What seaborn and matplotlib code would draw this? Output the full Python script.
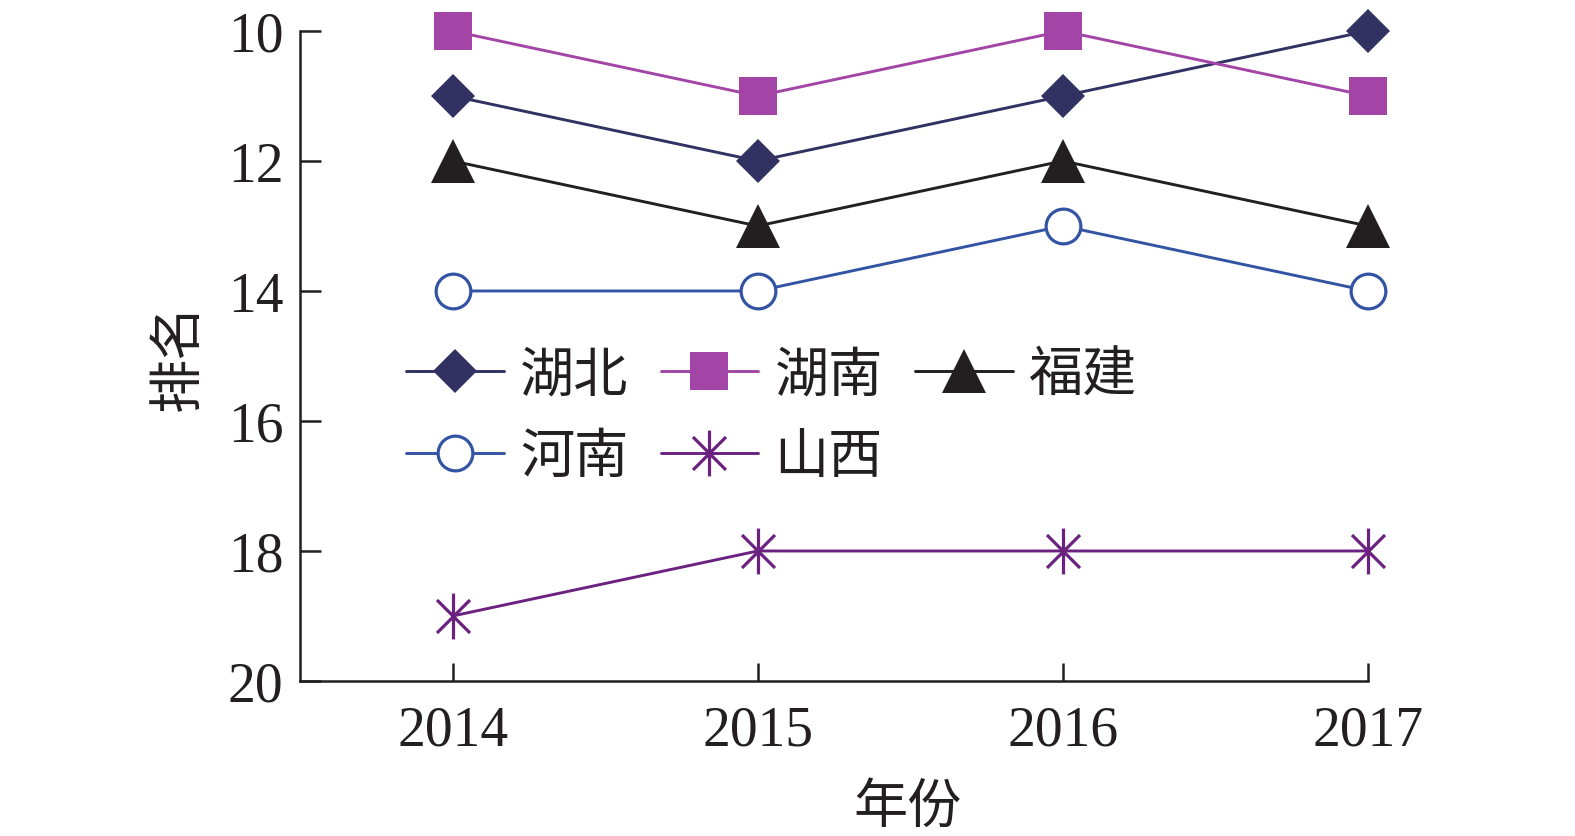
import pandas as pd
import matplotlib
matplotlib.use("Agg")
import matplotlib.pyplot as plt
from matplotlib.path import Path
import seaborn as sns

# 数据
years = [2014, 2015, 2016, 2017]
provinces = ["湖北", "湖南", "福建", "河南", "山西"]
hubei = [11, 12, 11, 10]
hunan = [10, 11, 10, 11]
fujian = [12, 13, 12, 13]
henan = [14, 14, 13, 14]
shanxi = [19, 18, 18, 18]

ranks = {"湖北": hubei, "湖南": hunan, "福建": fujian, "河南": henan, "山西": shanxi}
df = pd.DataFrame([
    {"年份": y, "排名": r, "省份": p}
    for p in provinces for y, r in zip(years, ranks[p])
])

# 米字形标记（竖线 + 交叉）
star = Path([(0, -1), (0, 1), (-0.72, -0.72), (0.72, 0.72), (-0.72, 0.72), (0.72, -0.72)],
            [Path.MOVETO, Path.LINETO] * 3)

colors = {"湖北": "#313162", "湖南": "#a245a6", "福建": "#231f20",
          "河南": "#3353a3", "山西": "#6b2180"}
markers = {"湖北": "D", "湖南": "s", "福建": "^", "河南": "o", "山西": star}
msizes = {"湖北": 22, "湖南": 28, "福建": 31, "河南": 25, "山西": 33}

sns.set_style("white")
plt.rcParams["font.family"] = ["Liberation Serif", "Noto Sans CJK SC"]
cjk = ["Noto Sans CJK SC", "DejaVu Sans"]

fig = plt.figure(figsize=(15.75, 8.37), dpi=100)
ax = fig.add_axes([0.1905, 0.1852, 0.8685 - 0.1905, 0.9618 - 0.1852])

for p in provinces:
    sub = df[df["省份"] == p]
    hollow = p == "河南"
    sns.lineplot(data=sub, x="年份", y="排名", ax=ax, label=p,
                 color=colors[p], marker=markers[p], markersize=msizes[p],
                 markerfacecolor="white" if hollow else colors[p],
                 markeredgecolor=colors[p],
                 markeredgewidth=2.3 if (hollow or p == "山西") else 0,
                 linewidth=2.1, clip_on=False, zorder=3)

ax.set_xlim(2013.5, 2017)
ax.set_ylim(20, 10)
ax.set_xticks(years)
ax.set_yticks([10, 12, 14, 16, 18, 20])
ax.tick_params(axis="both", direction="in", labelsize=40, width=1.8,
               color="#231f20", labelcolor="#231f20", bottom=True, left=True)
ax.tick_params(axis="y", length=15, pad=12)
ax.tick_params(axis="x", length=13, pad=17)
for s in ["top", "right"]:
    ax.spines[s].set_visible(False)
for s in ["left", "bottom"]:
    ax.spines[s].set_linewidth(1.8)
    ax.spines[s].set_color("#231f20")

ax.set_xlabel("年份", fontsize=39, family=cjk, color="#231f20")
ax.xaxis.set_label_coords(0.569, -0.15)
ax.set_ylabel("排名", fontsize=39, family=cjk, color="#231f20", labelpad=16)

# 图例按行排列：湖北 湖南 福建 / 河南 山西
handles, labels = ax.get_legend_handles_labels()
order = [0, 3, 1, 4, 2]
leg = ax.legend([handles[i] for i in order], [labels[i] for i in order],
                loc="upper left", bbox_to_anchor=(0.074, 0.555), ncol=3,
                frameon=False, borderpad=0, handlelength=1.8,
                handletextpad=0.3, columnspacing=0.6, labelspacing=0.5,
                prop={"family": cjk, "size": 39})
for t in leg.get_texts():
    t.set_color("#231f20")

plt.savefig("out.png", dpi=100)
